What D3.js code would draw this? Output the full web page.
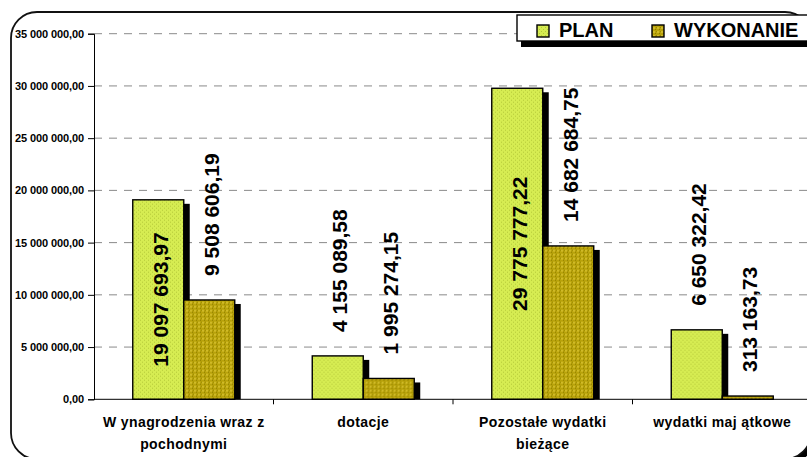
<!DOCTYPE html>
<html>
<head>
<meta charset="utf-8">
<script src="https://cdn.jsdelivr.net/npm/d3@7"></script>
<style>
  body { margin: 0; background: #fff; }
  svg { display: block; font-family: "Liberation Sans", Arial, sans-serif; }
</style>
</head>
<body>
<div id="chart"></div>
<script>
// Chart data
const categories = ["W ynagrodzenia wraz z\npochodnymi", "dotacje", "Pozostałe wydatki\nbieżące", "wydatki maj ątkowe"];
const seriesNames = ["PLAN", "WYKONANIE"];
const planValues = [19097693.97, 4155089.58, 29775777.22, 6650322.42];
const wykonanieValues = [9508606.19, 1995274.15, 14682684.75, 313163.73];
const yTicks = [0, 5000000, 10000000, 15000000, 20000000, 25000000, 30000000, 35000000];

const colors = { PLAN: "url(#patPlan)", WYKONANIE: "url(#patWyk)" };

const W = 807, H = 457;
const margin = { top: 33.7, right: -5, bottom: 57.7, left: 94 };
const plotW = W - margin.left - margin.right;
const plotH = H - margin.top - margin.bottom;

const pl = d3.formatLocale({ decimal: ",", thousands: " ", grouping: [3], currency: ["", ""] });
const fmt = pl.format(",.2f");

const data = categories.map((c, i) => ({
  cat: c,
  values: [
    { key: "PLAN", value: planValues[i] },
    { key: "WYKONANIE", value: wykonanieValues[i] }
  ]
}));

const svg = d3.select("#chart").append("svg")
  .attr("width", W)
  .attr("height", H);

// Dithered fills like the original
const defs = svg.append("defs");
const pPlan = defs.append("pattern").attr("id", "patPlan")
  .attr("width", 4).attr("height", 4).attr("patternUnits", "userSpaceOnUse");
pPlan.append("rect").attr("width", 4).attr("height", 4).attr("fill", "#d6ec52");
pPlan.append("rect").attr("x", 0).attr("y", 0).attr("width", 1).attr("height", 1).attr("fill", "#b4c838");
pPlan.append("rect").attr("x", 2).attr("y", 2).attr("width", 1).attr("height", 1).attr("fill", "#b4c838");

const pWyk = defs.append("pattern").attr("id", "patWyk")
  .attr("width", 4).attr("height", 4).attr("patternUnits", "userSpaceOnUse");
pWyk.append("rect").attr("width", 4).attr("height", 4).attr("fill", "#b8a20a");
pWyk.append("rect").attr("x", 0).attr("y", 0).attr("width", 2).attr("height", 2).attr("fill", "#d0ba28");
pWyk.append("rect").attr("x", 2).attr("y", 2).attr("width", 1).attr("height", 1).attr("fill", "#8c7c00");
pWyk.append("rect").attr("x", 3).attr("y", 0).attr("width", 1).attr("height", 1).attr("fill", "#9a8a00");

// Outer chart border with shadow
svg.append("rect")
  .attr("x", 15).attr("y", 16).attr("width", 800).attr("height", 447)
  .attr("rx", 26).attr("fill", "#000");
svg.append("rect")
  .attr("x", 11).attr("y", 12).attr("width", 800).attr("height", 447)
  .attr("rx", 26).attr("fill", "#fff")
  .attr("stroke", "#111").attr("stroke-width", 1.8);

const g = svg.append("g")
  .attr("transform", `translate(${margin.left},${margin.top})`);

// Scales
const x0 = d3.scaleBand().domain(categories).range([0, plotW]);
const x1 = d3.scaleBand().domain(seriesNames).range([0, x0.bandwidth()])
  .paddingInner(0).paddingOuter(0.76);
const y = d3.scaleLinear().domain([0, 35000000]).range([plotH, 0]);

// Dashed gridlines
g.append("g")
  .selectAll("line")
  .data(yTicks.filter(d => d > 0))
  .join("line")
  .attr("x1", 0).attr("x2", plotW)
  .attr("y1", d => y(d)).attr("y2", d => y(d))
  .attr("stroke", "#8a8a8a")
  .attr("stroke-width", 1)
  .attr("stroke-dasharray", "8,7");

// Y axis
const yAxis = g.append("g")
  .call(d3.axisLeft(y).tickValues(yTicks).tickFormat(fmt).tickSize(6).tickPadding(4));
yAxis.select(".domain").attr("stroke", "#000");
yAxis.selectAll(".tick line").attr("stroke", "#000");
yAxis.selectAll(".tick text")
  .attr("font-size", 11)
  .attr("font-weight", "bold")
  .attr("letter-spacing", "-0.1")
  .attr("fill", "#000")
  .attr("font-family", "Liberation Sans, Arial, sans-serif");

// Bars
const groups = g.selectAll(".cat")
  .data(data)
  .join("g")
  .attr("class", "cat")
  .attr("transform", d => `translate(${x0(d.cat)},0)`);

// shadows first
groups.selectAll(".shadow")
  .data(d => d.values)
  .join("rect")
  .attr("class", "shadow")
  .attr("x", d => x1(d.key) + 6)
  .attr("y", d => Math.min(y(d.value) + 4, plotH))
  .attr("width", x1.bandwidth())
  .attr("height", d => Math.max(0, plotH - y(d.value) - 4))
  .attr("fill", "#000");

groups.selectAll(".bar")
  .data(d => d.values)
  .join("rect")
  .attr("class", "bar")
  .attr("x", d => x1(d.key))
  .attr("y", d => y(d.value))
  .attr("width", x1.bandwidth())
  .attr("height", d => plotH - y(d.value))
  .attr("fill", d => colors[d.key])
  .attr("stroke", "#000")
  .attr("stroke-width", 1.4);

// X axis
const xAxis = g.append("g")
  .attr("transform", `translate(0,${plotH})`);
xAxis.append("line")
  .attr("x1", 0).attr("x2", plotW)
  .attr("stroke", "#000");
xAxis.selectAll(".xt")
  .data(categories.slice(1))
  .join("line")
  .attr("class", "xt")
  .attr("x1", d => x0(d)).attr("x2", d => x0(d))
  .attr("y1", 0).attr("y2", 5)
  .attr("stroke", "#000");

// Category labels (two lines where needed)
xAxis.selectAll(".xl")
  .data(categories)
  .join("text")
  .attr("class", "xl")
  .attr("text-anchor", "middle")
  .attr("font-size", 14)
  .attr("font-weight", "bold")
  .attr("letter-spacing", "0.4")
  .attr("fill", "#000")
  .each(function (d) {
    const lines = d.split("\n");
    d3.select(this).selectAll("tspan")
      .data(lines)
      .join("tspan")
      .attr("x", x0(d) + x0.bandwidth() / 2)
      .attr("y", (l, i) => 28 + i * 22)
      .text(l => l);
  });

// Value labels, vertical
groups.selectAll(".val")
  .data(d => d.values)
  .join("text")
  .attr("class", "val")
  .attr("font-size", 21)
  .attr("font-weight", "bold")
  .attr("fill", "#000")
  .attr("dy", "0.35em")
  .attr("text-anchor", d => d.value > 15000000 ? "middle" : "start")
  .attr("transform", d => {
    const cx = x1(d.key) + x1.bandwidth() / 2 + 2;
    const top = y(d.value);
    const ty = d.value > 15000000 ? (top + plotH) / 2 : top - 24;
    return `translate(${cx},${ty}) rotate(-90)`;
  })
  .text(d => fmt(d.value));

// Legend
const legend = svg.append("g").attr("transform", "translate(517,15)");
legend.append("rect")
  .attr("x", 4).attr("y", 6).attr("width", 300).attr("height", 26)
  .attr("fill", "#000");
legend.append("rect")
  .attr("x", 0).attr("y", 0).attr("width", 300).attr("height", 26)
  .attr("fill", "#fff").attr("stroke", "#000").attr("stroke-width", 1.4);

const legendX = [20, 135];
seriesNames.forEach((s, i) => {
  legend.append("rect")
    .attr("x", legendX[i]).attr("y", 10)
    .attr("width", 12).attr("height", 12)
    .attr("fill", colors[s])
    .attr("stroke", "#000").attr("stroke-width", 1.4);
  legend.append("text")
    .attr("x", legendX[i] + 22).attr("y", 22)
    .attr("font-size", 20)
    .attr("font-weight", "bold")
    .attr("fill", "#000")
    .text(s);
});
</script>
</body>
</html>
